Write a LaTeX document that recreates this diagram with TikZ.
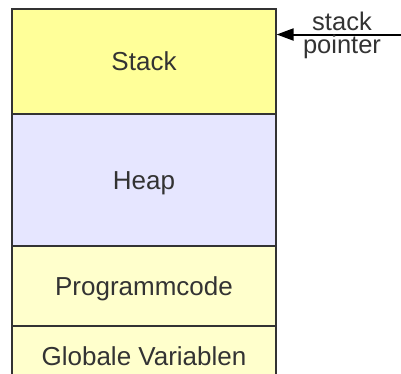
\documentclass[tikz,border=0pt]{standalone}
\usepackage{fontspec}
\setmainfont{Liberation Sans}
\usetikzlibrary{arrows.meta}
\definecolor{stackc}{HTML}{FFFF99}
\definecolor{heapc}{HTML}{E6E6FF}
\definecolor{codec}{HTML}{FFFFCC}
\definecolor{edgec}{HTML}{333333}
\begin{document}
\begin{tikzpicture}[x=1pt,y=-1pt,
  seg/.style={draw=edgec, line width=1.2pt, minimum width=264pt, inner sep=0pt,
    text=edgec, font=\fontsize{26}{30}\selectfont, text height=18.5pt, text depth=0pt},
  lbl/.style={anchor=base, inner sep=0pt, text=edgec, font=\fontsize{25.5}{30}\selectfont}]
\useasboundingbox (0,0) rectangle (401,373);
\clip (0,0) rectangle (401,373);
\node[seg, fill=codec, minimum height=60pt] (glob) at (144,356) {Globale Variablen};
\node[seg, fill=codec, minimum height=80pt] (code) at (144,286) {Programmcode};
\node[seg, fill=heapc, minimum height=132pt] (heap) at (144,180) {Heap};
\node[seg, fill=stackc, minimum height=105pt] (stack) at (144,61.5) {Stack};
\coordinate (sp) at (401,34.5);
\draw[-{Triangle[length=17pt,width=12pt]}, line width=2pt, draw=black] (sp) -- (stack.east |- sp);
\node[lbl] (l1) at (342,30) {stack};
\node[lbl] (l2) at (342,53.5) {pointer};
\end{tikzpicture}
\end{document}
